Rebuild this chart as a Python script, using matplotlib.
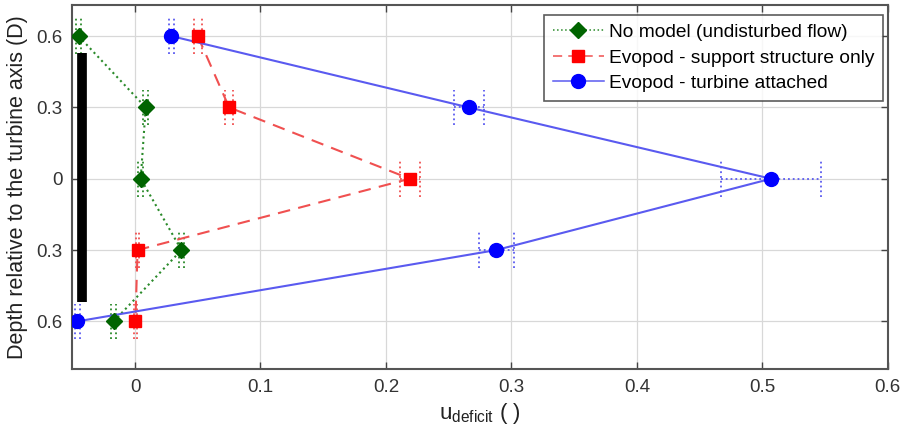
import numpy as np
import matplotlib.pyplot as plt

plt.rcParams['font.family'] = ['Liberation Sans', 'DejaVu Sans']

depth = [0.6, 0.3, 0.0, -0.3, -0.6]
depth_labels = ['0.6', '0.3', '0', '0.3', '0.6']

# velocity deficit per depth and its uncertainty
no_model = [-0.045, 0.0085, 0.0045, 0.037, -0.017]
no_model_err = [0.002, 0.002, 0.002, 0.002, 0.002]
support_only = [0.050, 0.075, 0.219, 0.002, 0.0003]
support_only_err = [0.003, 0.003, 0.008, 0.001, 0.001]
turbine = [0.029, 0.266, 0.507, 0.288, -0.046]
turbine_err = [0.002, 0.012, 0.04, 0.014, 0.002]

rotor_top = 0.53
rotor_bottom = -0.52
rotor_x = -0.042

fig = plt.figure(figsize=(9.04, 4.34), dpi=100)
ax = fig.add_axes([0.080, 0.150, 0.902, 0.838])

series = [
    (no_model, no_model_err, 'No model (undisturbed flow)', ':', 'D', '#2a8a2a', '#006400', 8.5),
    (support_only, support_only_err, 'Evopod - support structure only', (0, (6, 4)), 's', '#f05050', '#ff0000', 8),
    (turbine, turbine_err, 'Evopod - turbine attached', '-', 'o', '#5a5af0', '#0000ff', 10),
]

cap = 0.075
for x, err, label, ls, mk, lc, mc, ms in series:
    x = np.array(x)
    err = np.array(err)
    y = np.array(depth)
    # dotted horizontal error bars with dotted caps
    ax.hlines(y, x - err, x + err, colors=lc, linestyles=':', linewidth=1.3, zorder=2)
    ax.vlines(x - err, y - cap, y + cap, colors=lc, linestyles=':', linewidth=1.3, zorder=2)
    ax.vlines(x + err, y - cap, y + cap, colors=lc, linestyles=':', linewidth=1.3, zorder=2)
    ax.plot(x, y, linestyle=ls, color=lc, linewidth=1.5, zorder=3)
    ax.plot(x, y, linestyle='none', marker=mk, markersize=ms,
            markerfacecolor=mc, markeredgecolor=mc, zorder=4)
    ax.plot([], [], linestyle=ls, color=lc, linewidth=1.1, alpha=1, marker=mk, markersize=ms,
            markerfacecolor=mc, markeredgecolor=mc, label=label)

# turbine rotor
ax.plot([rotor_x, rotor_x], [rotor_bottom, rotor_top], color='black', linewidth=7,
        solid_capstyle='butt', zorder=5)

ax.set_xlim(-0.05, 0.6)
ax.set_ylim(-0.8, 0.73)
ax.set_xticks([0, 0.1, 0.2, 0.3, 0.4, 0.5, 0.6])
ax.set_xticklabels(['0', '0.1', '0.2', '0.3', '0.4', '0.5', '0.6'])
ax.set_yticks(depth)
ax.set_yticklabels(depth_labels)
ax.grid(True, color='#d8d8d8', linewidth=0.9)
ax.set_axisbelow(True)
ax.tick_params(direction='in', top=True, right=True, length=5, width=1,
               labelsize=13.5, colors='#444444', labelcolor='#333333', pad=7)
for s in ax.spines.values():
    s.set_color('#555555')
    s.set_linewidth(1.5)

ax.set_xlabel(r'u$_{\mathregular{deficit}}$ ( )', fontsize=16, color='#222222', labelpad=4)
ax.set_ylabel('Depth relative to the turbine axis (D)', fontsize=15.5, color='#222222',
              labelpad=6)

leg = ax.legend(loc='upper right', fontsize=13.8, frameon=True, fancybox=False,
                handlelength=2.7, handletextpad=0.25, borderpad=0.45, labelspacing=0.42,
                borderaxespad=0, bbox_to_anchor=(0.9945, 0.973))
leg.get_frame().set_edgecolor('#333333')
leg.get_frame().set_linewidth(1.2)

fig.savefig('out.png', dpi=100)
